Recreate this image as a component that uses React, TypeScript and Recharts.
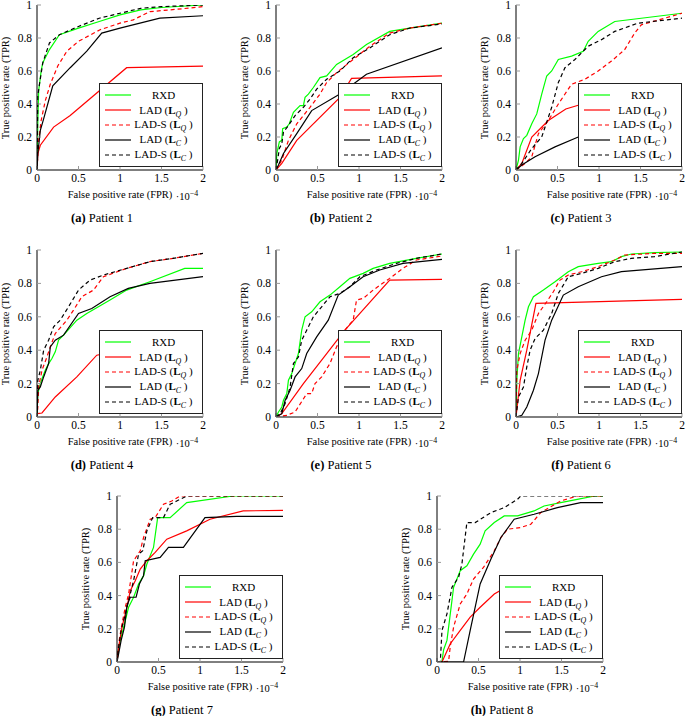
import React from 'react';
import { LineChart, Line, XAxis, YAxis, Legend } from 'recharts';

// ROC points: [FPR (x 1e-4), TPR]
const rxd1 = [[0,0],[0.01,0.3],[0.02,0.48],[0.05,0.6],[0.07,0.65],[0.15,0.73],[0.27,0.82],[0.5,0.86],[0.75,0.9],[1,0.94],[1.25,0.97],[1.5,0.985],[2,1]];
const ladQ1 = [[0,0],[0.01,0.1],[0.04,0.15],[0.2,0.26],[0.4,0.33],[1.08,0.62],[2,0.63]];
const ladsQ1 = [[0,0],[0.02,0.18],[0.05,0.3],[0.1,0.42],[0.16,0.52],[0.25,0.63],[0.36,0.72],[0.5,0.78],[0.76,0.85],[1,0.89],[1.16,0.91],[1.36,0.96],[1.6,0.97],[2,0.99]];
const ladC1 = [[0,0],[0.01,0.1],[0.04,0.24],[0.08,0.31],[0.19,0.51],[0.4,0.62],[0.6,0.72],[0.78,0.83],[1,0.86],[1.48,0.92],[2,0.935]];
const ladsC1 = [[0,0],[0.01,0.45],[0.03,0.52],[0.07,0.65],[0.15,0.77],[0.27,0.82],[0.5,0.87],[0.75,0.92],[1,0.95],[1.25,0.98],[1.5,0.99],[2,1]];

const rxd2 = [[0,0],[0.01,0.1],[0.04,0.17],[0.07,0.18],[0.08,0.25],[0.13,0.26],[0.16,0.28],[0.21,0.35],[0.29,0.39],[0.33,0.39],[0.35,0.44],[0.39,0.46],[0.45,0.5],[0.53,0.56],[0.61,0.57],[0.73,0.64],[0.93,0.7],[1.09,0.76],[1.37,0.84],[1.61,0.86],[2,0.89]];
const ladQ2 = [[0,0],[0.07,0.04],[0.25,0.18],[0.77,0.44],[0.91,0.555],[2,0.57]];
const ladsQ2 = [[0,0],[0.07,0.06],[0.15,0.18],[0.25,0.28],[0.41,0.38],[0.53,0.46],[0.61,0.53],[0.73,0.59],[0.93,0.67],[1.13,0.75],[1.37,0.83],[1.61,0.86],[2,0.89]];
const ladC2 = [[0,0],[0.03,0.03],[0.09,0.1],[0.25,0.22],[0.43,0.36],[0.77,0.46],[1.09,0.58],[2,0.74]];
const ladsC2 = [[0,0],[0.02,0.06],[0.04,0.13],[0.07,0.16],[0.09,0.23],[0.15,0.27],[0.23,0.33],[0.33,0.38],[0.41,0.43],[0.49,0.49],[0.61,0.55],[0.77,0.6],[0.93,0.68],[1.13,0.74],[1.37,0.82],[1.61,0.86],[2,0.885]];

const rxd3 = [[0,0],[0.03,0.06],[0.05,0.14],[0.09,0.19],[0.13,0.21],[0.19,0.28],[0.25,0.34],[0.31,0.46],[0.37,0.57],[0.43,0.6],[0.51,0.67],[0.67,0.69],[0.81,0.72],[0.87,0.78],[0.99,0.84],[1.19,0.9],[2,0.95]];
const ladQ3 = [[0,0],[0.07,0.04],[0.19,0.2],[0.39,0.3],[0.6,0.37],[1,0.43],[1.5,0.48],[2,0.485]];
const ladsQ3 = [[0,0],[0.11,0.04],[0.19,0.08],[0.27,0.22],[0.39,0.3],[0.51,0.4],[0.67,0.52],[0.83,0.55],[0.99,0.6],[1.15,0.66],[1.31,0.73],[1.43,0.83],[1.51,0.88],[2,0.95]];
const ladC3 = [[0,0],[0.07,0.03],[0.23,0.08],[0.47,0.14],[0.75,0.2],[1,0.22],[1.5,0.26],[2,0.3]];
const ladsC3 = [[0,0],[0.07,0.04],[0.19,0.13],[0.31,0.2],[0.43,0.38],[0.51,0.53],[0.59,0.62],[0.71,0.67],[0.87,0.75],[1.03,0.79],[1.19,0.84],[1.47,0.89],[2,0.92]];

const rxd4 = [[0,0],[0.01,0.14],[0.03,0.18],[0.06,0.23],[0.1,0.28],[0.14,0.32],[0.18,0.35],[0.22,0.39],[0.26,0.46],[0.32,0.49],[0.48,0.58],[0.6,0.62],[0.88,0.7],[1.08,0.76],[1.36,0.81],[1.78,0.89],[2,0.89]];
const ladQ4 = [[0,0],[0.005,0.02],[0.06,0.024],[0.22,0.12],[0.48,0.24],[0.72,0.37],[1.2,0.42],[1.6,0.44],[2,0.445]];
const ladsQ4 = [[0,0],[0.01,0.06],[0.02,0.18],[0.06,0.28],[0.12,0.36],[0.16,0.42],[0.22,0.5],[0.36,0.58],[0.44,0.64],[0.54,0.72],[0.68,0.76],[0.8,0.84],[1.08,0.89],[1.36,0.93],[1.64,0.95],[2,0.98]];
const ladC4 = [[0,0],[0.01,0.16],[0.04,0.18],[0.08,0.24],[0.14,0.32],[0.16,0.42],[0.22,0.46],[0.32,0.49],[0.5,0.62],[0.66,0.65],[0.88,0.72],[1.1,0.77],[1.36,0.8],[2,0.84]];
const ladsC4 = [[0,0],[0.01,0.22],[0.04,0.28],[0.08,0.4],[0.14,0.46],[0.2,0.54],[0.28,0.58],[0.38,0.66],[0.5,0.76],[0.64,0.82],[0.8,0.85],[1.08,0.89],[1.36,0.93],[1.64,0.95],[2,0.98]];

const rxd5 = [[0,0],[0.03,0.03],[0.07,0.06],[0.09,0.1],[0.13,0.14],[0.15,0.22],[0.19,0.26],[0.23,0.32],[0.27,0.38],[0.31,0.52],[0.35,0.6],[0.43,0.63],[0.53,0.69],[0.65,0.73],[0.77,0.78],[0.89,0.83],[1.05,0.86],[1.17,0.89],[1.37,0.92],[1.69,0.95],[2,0.976]];
const ladQ5 = [[0,0],[0.07,0.02],[0.33,0.2],[0.55,0.34],[0.83,0.52],[1.37,0.82],[2,0.824]];
const ladsQ5 = [[0,0],[0.13,0.01],[0.23,0.03],[0.37,0.14],[0.43,0.14],[0.47,0.2],[0.55,0.24],[0.65,0.32],[0.73,0.42],[0.83,0.52],[0.93,0.58],[0.97,0.7],[1.05,0.71],[1.17,0.76],[1.37,0.83],[1.53,0.89],[1.69,0.94],[2,0.964]];
const ladC5 = [[0,0],[0.07,0.02],[0.11,0.1],[0.17,0.16],[0.23,0.24],[0.31,0.29],[0.37,0.38],[0.49,0.48],[0.63,0.58],[0.75,0.73],[0.89,0.78],[1.05,0.84],[1.25,0.88],[1.53,0.92],[2,0.944]];
const ladsC5 = [[0,0],[0.05,0.02],[0.11,0.08],[0.17,0.18],[0.21,0.32],[0.27,0.36],[0.31,0.46],[0.37,0.52],[0.45,0.6],[0.55,0.66],[0.65,0.72],[0.77,0.74],[0.89,0.78],[1.01,0.84],[1.21,0.88],[1.45,0.92],[1.69,0.95],[2,0.976]];

const rxd6 = [[0,0],[0.01,0.22],[0.03,0.38],[0.07,0.48],[0.11,0.58],[0.15,0.66],[0.21,0.72],[0.33,0.76],[0.47,0.81],[0.63,0.87],[0.75,0.9],[0.99,0.92],[1.15,0.93],[1.27,0.96],[1.39,0.976],[1.67,0.984],[2,0.988]];
const ladQ6 = [[0,0],[0.05,0.22],[0.13,0.4],[0.24,0.68],[2,0.704]];
const ladsQ6 = [[0,0],[0.01,0.28],[0.05,0.38],[0.11,0.46],[0.19,0.52],[0.27,0.62],[0.37,0.69],[0.45,0.75],[0.53,0.82],[0.63,0.85],[0.79,0.87],[0.99,0.9],[1.19,0.94],[1.31,0.97],[1.67,0.98],[2,0.98]];
const ladC6 = [[0,0],[0.07,0.01],[0.13,0.06],[0.21,0.16],[0.27,0.26],[0.35,0.46],[0.43,0.58],[0.57,0.73],[0.75,0.78],[1.03,0.84],[1.27,0.87],[2,0.9]];
const ladsC6 = [[0,0],[0.03,0.12],[0.09,0.18],[0.13,0.3],[0.17,0.4],[0.23,0.47],[0.33,0.52],[0.43,0.62],[0.51,0.74],[0.63,0.84],[0.79,0.86],[0.99,0.89],[1.19,0.93],[1.39,0.95],[1.67,0.96],[2,0.988]];

const rxd7 = [[0,0],[0.01,0.054],[0.03,0.11],[0.06,0.17],[0.1,0.25],[0.14,0.33],[0.2,0.39],[0.26,0.47],[0.32,0.52],[0.36,0.59],[0.44,0.69],[0.49,0.87],[0.64,0.87],[0.84,0.96],[1.4,1],[2,1]];
const ladQ7 = [[0,0],[0.02,0.09],[0.06,0.21],[0.12,0.33],[0.16,0.43],[0.22,0.49],[0.28,0.56],[0.36,0.61],[0.46,0.66],[0.6,0.74],[0.84,0.79],[1.12,0.86],[1.52,0.91],[2,0.914]];
const ladsQ7 = [[0,0],[0.02,0.11],[0.06,0.23],[0.1,0.33],[0.14,0.41],[0.2,0.61],[0.28,0.67],[0.32,0.75],[0.4,0.86],[0.46,0.87],[0.56,0.95],[0.66,0.97],[0.76,1],[2,1]];
const ladC7 = [[0,0],[0.02,0.05],[0.05,0.13],[0.09,0.21],[0.12,0.34],[0.16,0.39],[0.23,0.39],[0.27,0.47],[0.32,0.52],[0.34,0.61],[0.52,0.63],[0.62,0.69],[0.8,0.69],[1.06,0.87],[1.44,0.877],[2,0.877]];
const ladsC7 = [[0,0],[0.02,0.09],[0.05,0.19],[0.1,0.29],[0.14,0.37],[0.2,0.49],[0.26,0.65],[0.31,0.67],[0.36,0.79],[0.43,0.87],[0.56,0.87],[0.64,0.95],[0.72,0.97],[0.84,1],[2,1]];

const rxd8 = [[0,0],[0.06,0.004],[0.08,0.074],[0.12,0.13],[0.16,0.29],[0.2,0.45],[0.28,0.55],[0.36,0.58],[0.44,0.65],[0.52,0.71],[0.58,0.79],[0.69,0.84],[0.81,0.88],[0.97,0.88],[1.17,0.91],[1.29,0.94],[1.49,0.96],[1.69,0.98],[1.9,1],[2,1]];
const ladQ8 = [[0,0],[0.06,0],[0.16,0.11],[0.28,0.19],[0.4,0.27],[0.52,0.33],[0.69,0.41],[0.9,0.47],[1.4,0.52],[2,0.52]];
const ladsQ8 = [[0,0],[0.14,0.004],[0.16,0.094],[0.2,0.21],[0.28,0.35],[0.36,0.41],[0.44,0.5],[0.56,0.57],[0.69,0.67],[0.77,0.75],[0.85,0.8],[1.01,0.81],[1.13,0.83],[1.25,0.9],[1.49,0.97],[1.69,1],[2,1]];
const ladC8 = [[0,0],[0.32,0],[0.4,0.19],[0.52,0.47],[0.65,0.62],[0.77,0.75],[0.93,0.86],[1.17,0.89],[1.45,0.93],[1.73,0.96],[2,0.96]];
const ladsC8 = [[0,0],[0.04,0.004],[0.06,0.19],[0.12,0.29],[0.18,0.45],[0.26,0.51],[0.3,0.59],[0.36,0.84],[0.46,0.84],[0.65,0.9],[0.81,0.93],[0.97,0.98],[1.01,1],[2,1]];

const SERIES_NAMES = ['RXD', 'LAD', 'LAD-S', 'LAD', 'LAD-S'];
const SERIES_SUBS = ['', 'Q', 'Q', 'C', 'C'];
const SERIES_COLORS = ['#00ff00', '#ff0000', '#ff0000', '#000000', '#000000'];
const SERIES_DASH = [undefined, undefined, '4 3', undefined, '4 3'];
const X_TICKS = [0, 0.5, 1, 1.5, 2];
const Y_TICKS = [0, 0.2, 0.4, 0.6, 0.8, 1];

const FONT = "'Liberation Serif', 'Times New Roman', 'DejaVu Serif', serif";
const PLOT_W = 166;
const ML = 30;
const MT = 8;
const MR = 8;
const XH = 22;
const LEG_W = 104;
const LEG_H = 84;

const panels = [
  { tag: 'a', name: 'Patient 1', left: 37, top: 5, h: 165, series: [rxd1, ladQ1, ladsQ1, ladC1, ladsC1] },
  { tag: 'b', name: 'Patient 2', left: 276, top: 5, h: 165, series: [rxd2, ladQ2, ladsQ2, ladC2, ladsC2] },
  { tag: 'c', name: 'Patient 3', left: 516, top: 5, h: 165, series: [rxd3, ladQ3, ladsQ3, ladC3, ladsC3] },
  { tag: 'd', name: 'Patient 4', left: 37, top: 250, h: 167, series: [rxd4, ladQ4, ladsQ4, ladC4, ladsC4] },
  { tag: 'e', name: 'Patient 5', left: 276, top: 250, h: 167, series: [rxd5, ladQ5, ladsQ5, ladC5, ladsC5] },
  { tag: 'f', name: 'Patient 6', left: 516, top: 250, h: 167, series: [rxd6, ladQ6, ladsQ6, ladC6, ladsC6] },
  { tag: 'g', name: 'Patient 7', left: 117, top: 496, h: 166, series: [rxd7, ladQ7, ladsQ7, ladC7, ladsC7] },
  { tag: 'h', name: 'Patient 8', left: 437, top: 496, h: 166, series: [rxd8, ladQ8, ladsQ8, ladC8, ladsC8] },
];

const toPoints = (arr: number[][]) => arr.map(([x, y]) => ({ x, y }));

const tickStyle = { fill: '#000', fontSize: 11.5, fontFamily: FONT };

const LegendBox = () => (
  <div
    style={{
      width: LEG_W,
      height: LEG_H,
      boxSizing: 'border-box',
      border: '1px solid #222',
      background: '#fff',
      paddingTop: 4,
      fontFamily: FONT,
      fontSize: 11,
      color: '#000',
    }}
  >
    {SERIES_NAMES.map((n, i) => (
      <div key={i} style={{ display: 'flex', alignItems: 'center', height: 14.8 }}>
        <svg width={34} height={10} style={{ flex: 'none' }}>
          <line x1={5} x2={31} y1={5} y2={5} stroke={SERIES_COLORS[i]} strokeWidth={1.2} strokeDasharray={SERIES_DASH[i]} />
        </svg>
        <span style={{ flex: 1, textAlign: 'center', paddingRight: 9, whiteSpace: 'nowrap', lineHeight: 1 }}>
          {n}
          {SERIES_SUBS[i] && (
            <>
              {' ('}
              <b>L</b>
              <sub style={{ fontStyle: 'italic', fontSize: '0.72em', lineHeight: 0 }}>{SERIES_SUBS[i]}</sub>
              {' )'}
            </>
          )}
        </span>
      </div>
    ))}
  </div>
);

const Text = ({ x, y, children, size = 10.5, rotate = false }: any) => (
  <div
    style={{
      position: 'absolute',
      left: x,
      top: y,
      transform: `translate(-50%, -50%)${rotate ? ' rotate(-90deg)' : ''}`,
      whiteSpace: 'nowrap',
      fontFamily: FONT,
      fontSize: size,
      color: '#000',
      lineHeight: 1,
    }}
  >
    {children}
  </div>
);

const Panel = ({ p }: any) => {
  const w = ML + PLOT_W + MR;
  const h = MT + p.h + XH;
  const bottom = p.top + p.h;
  return (
    <>
      <div style={{ position: 'absolute', left: p.left - ML, top: p.top - MT }}>
        <LineChart width={w} height={h} margin={{ top: MT, right: MR, bottom: 0, left: 0 }}>
          <XAxis
            dataKey="x"
            type="number"
            domain={[0, 2]}
            ticks={X_TICKS}
            interval={0}
            allowDataOverflow
            height={XH}
            stroke="#000"
            tickSize={-4}
            tickMargin={8}
            tickLine={{ stroke: '#999' }}
            tick={tickStyle}
          />
          <XAxis
            xAxisId="top"
            orientation="top"
            dataKey="x"
            type="number"
            domain={[0, 2]}
            ticks={X_TICKS}
            interval={0}
            height={0}
            stroke="#000"
            tickSize={-4}
            tickLine={{ stroke: '#999' }}
            tick={false}
          />
          <YAxis
            type="number"
            domain={[0, 1]}
            ticks={Y_TICKS}
            interval={0}
            allowDataOverflow
            width={ML}
            stroke="#000"
            tickSize={-4}
            tickMargin={9}
            tickLine={{ stroke: '#999' }}
            tick={tickStyle}
          />
          <YAxis
            yAxisId="right"
            orientation="right"
            type="number"
            domain={[0, 1]}
            ticks={Y_TICKS}
            interval={0}
            width={0}
            stroke="#000"
            tickSize={-4}
            tickLine={{ stroke: '#999' }}
            tick={false}
          />
          {p.series.map((s: number[][], i: number) => (
            <Line
              key={i}
              data={toPoints(s)}
              dataKey="y"
              type="linear"
              stroke={SERIES_COLORS[i]}
              strokeWidth={1.2}
              strokeDasharray={SERIES_DASH[i]}
              dot={false}
              activeDot={false}
              isAnimationActive={false}
            />
          ))}
          <Legend
            layout="vertical"
            align="center"
            verticalAlign="middle"
            wrapperStyle={{ left: ML + PLOT_W - LEG_W, top: MT + p.h - LEG_H - 3, width: LEG_W, height: LEG_H }}
            content={() => <LegendBox />}
          />
        </LineChart>
      </div>
      <Text x={p.left - 31} y={p.top + p.h / 2} rotate>
        True positive rate (TPR)
      </Text>
      <Text x={p.left + 83} y={bottom + 25}>
        False positive rate (FPR)
      </Text>
      <Text x={p.left + 150} y={bottom + 27}>
        ·10<sup style={{ fontSize: '0.75em', lineHeight: 0, verticalAlign: '0.45em' }}>−4</sup>
      </Text>
      <Text x={p.left + 65} y={bottom + 48} size={12.5}>
        <b>({p.tag})</b> {p.name}
      </Text>
    </>
  );
};

export default function App() {
  return (
    <div style={{ position: 'absolute', left: 0, top: 0, width: 685, height: 716, overflow: 'hidden', background: '#fff' }}>
      {panels.map((p) => (
        <Panel key={p.tag} p={p} />
      ))}
    </div>
  );
}
